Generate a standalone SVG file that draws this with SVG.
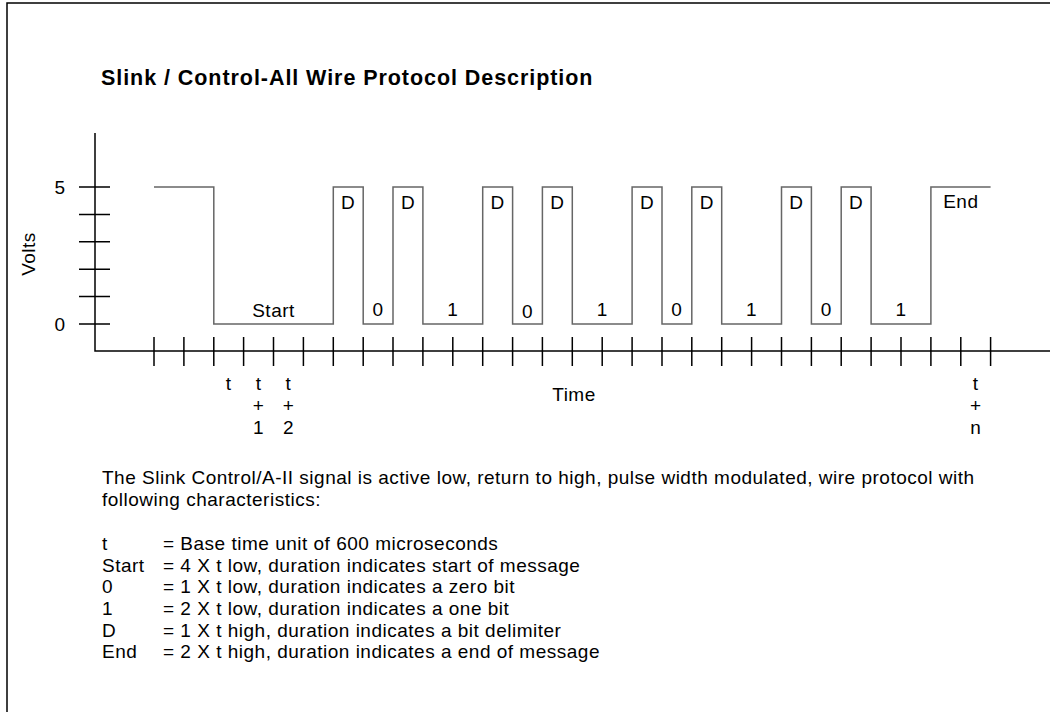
<svg xmlns="http://www.w3.org/2000/svg" width="1050" height="712" viewBox="0 0 1050 712">
<style>
text{font-family:"Liberation Sans",Arial,Helvetica,sans-serif;font-size:19px;letter-spacing:0.5px;fill:#000}
.m{text-anchor:middle}
.ax{stroke:#000;stroke-width:1.5;fill:none}
.wave{stroke:#666;stroke-width:1.5;fill:none}
.title{font-weight:bold;font-size:21.5px}
</style>
<rect width="1050" height="712" fill="#fff"/>
<path d="M7,712 V3 H1050" stroke="#000" stroke-width="1.5" fill="none"/>
<text class="title" x="101" y="85" textLength="492" lengthAdjust="spacing">Slink / Control-All Wire Protocol Description</text>
<g id="axes">
<path class="ax" d="M95,133 V351 H1050"/>
<path class="ax" d="M79,187 H110 M79,214.4 H110 M79,241.8 H110 M79,269.2 H110 M79,296.6 H110 M79,324 H110"/>
<path class="ax" d="M154,337 V366 M183.9,337 V366 M213.8,337 V366 M243.6,337 V366 M273.5,337 V366 M303.4,337 V366 M333.3,337 V366 M363.2,337 V366 M393,337 V366 M422.9,337 V366 M452.8,337 V366 M482.7,337 V366 M512.6,337 V366 M542.4,337 V366 M572.3,337 V366 M602.2,337 V366 M632.1,337 V366 M662,337 V366 M691.8,337 V366 M721.7,337 V366 M751.6,337 V366 M781.5,337 V366 M811.4,337 V366 M841.2,337 V366 M871.1,337 V366 M901,337 V366 M930.9,337 V366 M960.8,337 V366 M990.6,337 V366"/>
<text class="m" x="60" y="194">5</text>
<text class="m" x="60" y="331">0</text>
<text class="m" transform="translate(35,254) rotate(-90)">Volts</text>
<text class="m" x="574" y="401">Time</text>
<text class="m" x="228.7" y="390">t</text>
<text class="m" x="258.6" y="390">t</text>
<text class="m" x="258.6" y="412">+</text>
<text class="m" x="258.6" y="434">1</text>
<text class="m" x="288.5" y="390">t</text>
<text class="m" x="288.5" y="412">+</text>
<text class="m" x="288.5" y="434">2</text>
<text class="m" x="975.7" y="390">t</text>
<text class="m" x="975.7" y="412">+</text>
<text class="m" x="975.7" y="434">n</text>
</g>
<g id="waveform">
<path class="wave" d="M154,187 H213.8 V324 H333.3 V187 H363.2 V324 H393 V187 H422.9 V324 H482.7 V187 H512.6 V324 H542.4 V187 H572.3 V324 H632.1 V187 H662 V324 H691.8 V187 H721.7 V324 H781.5 V187 H811.4 V324 H841.2 V187 H871.1 V324 H930.9 V187 H990.6"/>
<text class="m" x="273.5" y="317">Start</text>
<text class="m" x="348.2" y="209">D</text>
<text class="m" x="408" y="209">D</text>
<text class="m" x="497.6" y="209">D</text>
<text class="m" x="557.4" y="209">D</text>
<text class="m" x="647" y="209">D</text>
<text class="m" x="706.8" y="209">D</text>
<text class="m" x="796.4" y="209">D</text>
<text class="m" x="856.2" y="209">D</text>
<text class="m" x="378.1" y="316">0</text>
<text class="m" x="527.5" y="318">0</text>
<text class="m" x="676.9" y="316">0</text>
<text class="m" x="826.3" y="316">0</text>
<text class="m" x="452.8" y="316">1</text>
<text class="m" x="602.2" y="316">1</text>
<text class="m" x="751.6" y="316">1</text>
<text class="m" x="901" y="316">1</text>
<text class="m" x="960.8" y="208">End</text>
</g>
<g id="description">
<text x="102" y="484">The Slink Control/A-II signal is active low, return to high, pulse width modulated, wire protocol with</text>
<text x="102" y="506">following characteristics:</text>
<text x="102" y="550">t</text><text x="163" y="550">= Base time unit of 600 microseconds</text>
<text x="102" y="572">Start</text><text x="163" y="572">= 4 X t low, duration indicates start of message</text>
<text x="102" y="593">0</text><text x="163" y="593">= 1 X t low, duration indicates a zero bit</text>
<text x="102" y="615">1</text><text x="163" y="615">= 2 X t low, duration indicates a one bit</text>
<text x="102" y="637">D</text><text x="163" y="637">= 1 X t high, duration indicates a bit delimiter</text>
<text x="102" y="658">End</text><text x="163" y="658">= 2 X t high, duration indicates a end of message</text>
</g>
</svg>
